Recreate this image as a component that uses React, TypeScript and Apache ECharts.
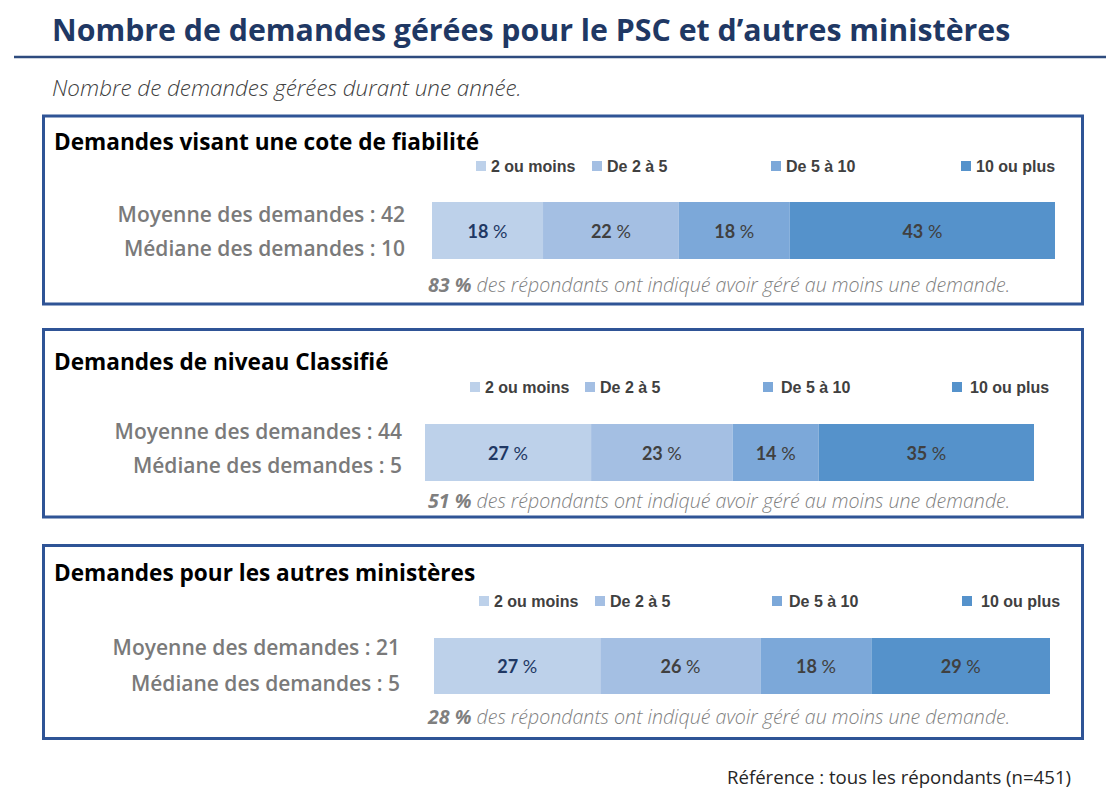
import React, { useEffect, useRef } from "react";
import * as echarts from "echarts";

// ---- Data ----
const categories = ["2 ou moins", "De 2 à 5", "De 5 à 10", "10 ou plus"];
const panelTitles = [
  "Demandes visant une cote de fiabilité",
  "Demandes de niveau Classifié",
  "Demandes pour les autres ministères",
];
const fiabilite = [18, 22, 18, 43];
const classifie = [27, 23, 14, 35];
const autresMinisteres = [27, 26, 18, 29];
const moyennes = [42, 44, 21];
const medianes = [10, 5, 5];
const auMoinsUne = [83, 51, 28];

const mainTitle = "Nombre de demandes gérées pour le PSC et d’autres ministères";
const subTitle = "Nombre de demandes gérées durant une année.";
const footer = "Référence : tous les répondants (n=451)";

// ---- Layout / style ----
const panelValues = [fiabilite, classifie, autresMinisteres];
const colors = ["#BDD1EA", "#A4BFE3", "#7CA8D9", "#5592CB"];
const FONT = "'Open Sans', 'Noto Sans', sans-serif";
const LFONT = "Lato, 'Open Sans', sans-serif";

const panels = [
  { boxY: 114.5, boxH: 191, titleY: 141, legendY: 166, legendX: [476, 592, 771, 961], legendPad: [0, 0, 0, 0],
    barX: 432, barW: 623, barY: 202, barH: 57, statX: 405, statY: [214, 248], noteY: 284 },
  { boxY: 328, boxH: 190.5, titleY: 361, legendY: 387, legendX: [470, 585, 763, 952], legendPad: [0, 0, 3, 3],
    barX: 425, barW: 609, barY: 424, barH: 57, statX: 402, statY: [431, 465], noteY: 500 },
  { boxY: 544, boxH: 196, titleY: 572, legendY: 601, legendX: [479, 595, 772, 962], legendPad: [0, 0, 2, 4],
    barX: 434, barW: 616, barY: 638, barH: 56, statX: 400, statY: [647, 683], noteY: 716 },
];

function buildOption() {
  const grid: any[] = [];
  const xAxis: any[] = [];
  const yAxis: any[] = [];
  const series: any[] = [];
  const legend: any[] = [];
  const graphic: any[] = [];

  graphic.push({
    type: "text",
    style: { text: mainTitle, x: 52, y: 29, font: `bold 30.3px ${FONT}`, fill: "#1F3864", verticalAlign: "middle", textVerticalAlign: "middle" },
  });
  graphic.push({
    type: "line",
    shape: { x1: 14, y1: 57, x2: 1106, y2: 57 },
    style: { stroke: "#2E4B7E", lineWidth: 2.5 },
  });
  graphic.push({
    type: "text",
    style: { text: subTitle, x: 52, y: 87, font: `italic 300 22.4px ${FONT}`, fill: "#404040", verticalAlign: "middle", textVerticalAlign: "middle" },
  });
  graphic.push({
    type: "text",
    style: { text: footer, x: 1071, y: 776, font: `18.6px ${FONT}`, fill: "#262626", align: "right", textAlign: "right", verticalAlign: "middle", textVerticalAlign: "middle" },
  });

  panels.forEach((p, i) => {
    const vals = panelValues[i];
    const total = vals.reduce((a, b) => a + b, 0);
    grid.push({ left: p.barX, top: p.barY, width: p.barW, height: p.barH, containLabel: false });
    xAxis.push({ type: "value", gridIndex: i, min: 0, max: total, show: false });
    yAxis.push({ type: "category", gridIndex: i, data: ["x"], show: false });

    categories.forEach((c, j) => {
      const labelColor = j === 0 ? "#1F3864" : "#404040";
      series.push({
        type: "bar",
        name: c,
        stack: "s" + i,
        xAxisIndex: i,
        yAxisIndex: i,
        data: [vals[j]],
        barWidth: "100%",
        itemStyle: { color: colors[j] },
        label: {
          show: true,
          position: "inside",
          formatter: (prm: any) => `{b|${prm.value}}{n| %}`,
          rich: {
            b: { fontFamily: LFONT, fontWeight: "bold", fontSize: 18, color: labelColor },
            n: { fontFamily: LFONT, fontWeight: "normal", fontSize: 18, color: labelColor },
          },
        },
      });
      legend.push({
        data: [c],
        left: p.legendX[j],
        top: p.legendY - 8,
        icon: "rect",
        itemWidth: 10,
        itemHeight: 10,
        selectedMode: false,
        padding: 0,
        textStyle: {
          fontFamily: "'Liberation Sans', Arial, sans-serif",
          fontWeight: "bold",
          fontSize: 16,
          color: "#404040",
          padding: [0, 0, 0, p.legendPad[j]],
        },
      });
    });

    graphic.push({
      type: "rect",
      shape: { x: 43.5, y: p.boxY + 1.5, width: 1039, height: p.boxH - 3 },
      style: { fill: "none", stroke: "#2F5496", lineWidth: 3 },
    });
    graphic.push({
      type: "text",
      style: { text: panelTitles[i], x: 54, y: p.titleY, font: `bold 22.6px ${FONT}`, fill: "#000000", verticalAlign: "middle", textVerticalAlign: "middle" },
    });
    graphic.push({
      type: "text",
      style: { text: `Moyenne des demandes : ${moyennes[i]}`, x: p.statX, y: p.statY[0], font: `600 21px ${FONT}`, fill: "#7A7A7A", align: "right", textAlign: "right", verticalAlign: "middle", textVerticalAlign: "middle" },
    });
    graphic.push({
      type: "text",
      style: { text: `Médiane des demandes : ${medianes[i]}`, x: p.statX, y: p.statY[1], font: `600 21px ${FONT}`, fill: "#7A7A7A", align: "right", textAlign: "right", verticalAlign: "middle", textVerticalAlign: "middle" },
    });
    graphic.push({
      type: "text",
      style: {
        text: `{b|${auMoinsUne[i]} %}{r| des répondants ont indiqué avoir géré au moins une demande.}`,
        x: 428,
        y: p.noteY,
        verticalAlign: "middle",
        textVerticalAlign: "middle",
        rich: {
          b: { fontFamily: FONT, fontStyle: "italic", fontWeight: "bold", fontSize: 19.6, fill: "#7F7F7F", color: "#7F7F7F" },
          r: { fontFamily: FONT, fontStyle: "italic", fontWeight: 300, fontSize: 19.6, fill: "#7F7F7F", color: "#7F7F7F" },
        },
      },
    });
  });

  return {
    animation: false,
    backgroundColor: "#ffffff",
    grid,
    xAxis,
    yAxis,
    legend,
    series,
    graphic,
  };
}

export default function App() {
  const ref = useRef<HTMLDivElement>(null);
  useEffect(() => {
    if (!ref.current) return;
    const chart = echarts.init(ref.current, undefined, { renderer: "svg" });
    chart.setOption(buildOption() as any);
    return () => chart.dispose();
  }, []);
  return (
    <div
      ref={ref}
      style={{ position: "absolute", left: 0, top: 0, width: 1106, height: 802, background: "#fff" }}
    />
  );
}
